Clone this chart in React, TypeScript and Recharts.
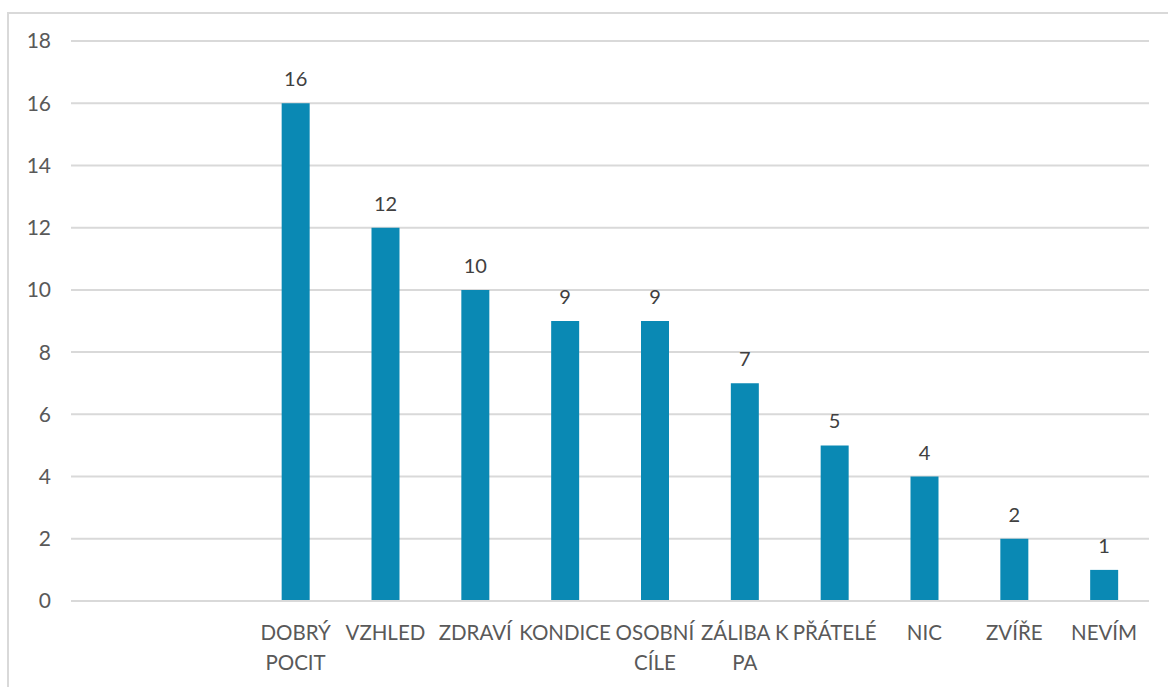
import { BarChart, Bar, XAxis, YAxis, CartesianGrid, LabelList } from 'recharts';

const categories = ['', '', 'DOBRÝ POCIT', 'VZHLED', 'ZDRAVÍ', 'KONDICE', 'OSOBNÍ CÍLE', 'ZÁLIBA K PA', 'PŘÁTELÉ', 'NIC', 'ZVÍŘE', 'NEVÍM'];
const counts: (number | null)[] = [null, null, 16, 12, 10, 9, 9, 7, 5, 4, 2, 1];
const yTicks = [0, 2, 4, 6, 8, 10, 12, 14, 16, 18];

const data = categories.map((name, i) => ({ name, value: counts[i] }));

const FONT = 'Lato, "Noto Sans", sans-serif';

// wrap like Excel does inside the category slot
function wrap(label: string, maxChars = 8): string[] {
  const lines: string[] = [];
  let cur = '';
  for (const w of label.split(' ')) {
    const next = cur ? cur + ' ' + w : w;
    if (next.length > maxChars && cur) {
      lines.push(cur);
      cur = w;
    } else cur = next;
  }
  if (cur) lines.push(cur);
  return lines;
}

function CategoryTick({ x, y, payload }: any) {
  const lines = wrap(String(payload.value ?? ''));
  return (
    <text x={x} y={y + 31} textAnchor="middle" fill="#595959" fontSize={20.5} fontFamily={FONT}>
      {lines.map((l, i) => (
        <tspan key={i} x={x} dy={i === 0 ? 0 : 30}>{l}</tspan>
      ))}
    </text>
  );
}

export default function App() {
  return (
    <div style={{ position: 'absolute', left: 0, top: 0, width: 1168, height: 687, background: '#fff', overflow: 'hidden' }}>
      <div style={{ position: 'absolute', left: 7, top: 12, width: 1200, height: 700, borderTop: '2px solid #d9d9d9', borderLeft: '2px solid #d9d9d9' }} />
      <BarChart width={1168} height={687} data={data} margin={{ top: 41, right: 19, bottom: 26, left: 11 }} barCategoryGap={0}>
        <CartesianGrid vertical={false} stroke="#d9d9d9" strokeWidth={2} />
        <XAxis dataKey="name" axisLine={{ stroke: '#d9d9d9', strokeWidth: 2 }} tickLine={false} tick={<CategoryTick />} interval={0} height={60} />
        <YAxis domain={[0, 18]} ticks={yTicks} axisLine={false} tickLine={false} width={60} tickMargin={14}
          tick={{ fill: '#595959', fontSize: 21, fontFamily: FONT }} />
        <Bar dataKey="value" fill="#0A89B4" barSize={28} isAnimationActive={false}>
          <LabelList dataKey="value" position="top" offset={17} fill="#404040" fontSize={20} fontFamily={FONT} />
        </Bar>
      </BarChart>
    </div>
  );
}
